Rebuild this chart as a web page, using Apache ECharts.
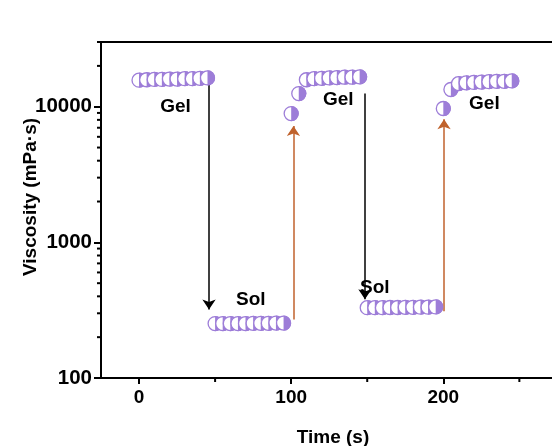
<!DOCTYPE html>
<html>
<head>
<meta charset="utf-8">
<script src="https://cdn.jsdelivr.net/npm/echarts@6/dist/echarts.min.js"></script>
<style>
  html, body { margin: 0; padding: 0; background: #fff; }
  #chart { width: 552px; height: 446px; }
</style>
</head>
<body>
<div id="chart"></div>
<script>
// Step-shear viscosity recovery: alternating low / high shear intervals
const gelTime1 = [0, 5, 10, 15, 20, 25, 30, 35, 40, 45];
const gelVisc1 = [15700, 15800, 15900, 15900, 16000, 16000, 16100, 16100, 16200, 16300];
const solTime1 = [50, 55, 60, 65, 70, 75, 80, 85, 90, 95];
const solVisc1 = [252, 252, 252, 252, 252, 253, 253, 253, 254, 254];
const gelTime2 = [100, 105, 110, 115, 120, 125, 130, 135, 140, 145];
const gelVisc2 = [8900, 12500, 15800, 16100, 16200, 16300, 16400, 16500, 16500, 16600];
const solTime2 = [150, 155, 160, 165, 170, 175, 180, 185, 190, 195];
const solVisc2 = [330, 330, 330, 331, 331, 332, 332, 333, 333, 334];
const gelTime3 = [200, 205, 210, 215, 220, 225, 230, 235, 240, 245];
const gelVisc3 = [9700, 13400, 14800, 15000, 15100, 15200, 15300, 15400, 15400, 15500];

// axis ticks
const xMajorTicks = [0, 100, 200];
const xMinorTicks = [50, 150, 250];
const yMajorTicks = [100, 1000, 10000];
const yMinorTicks = [200, 300, 400, 500, 600, 700, 800, 900,
                     2000, 3000, 4000, 5000, 6000, 7000, 8000, 9000, 20000, 30000];

// state labels: text, time, viscosity
const stateLabels = [
  ['Gel', 24, 10000],
  ['Sol', 73.5, 376],
  ['Gel', 131, 11300],
  ['Sol', 155, 465],
  ['Gel', 227, 10500]
];

// switching arrows: from [t, v] to [t, v]
const shearDown = [
  [[46, 14800], [46, 320]],
  [[148.5, 12500], [148.5, 380]]
];
const shearUp = [
  [[101.5, 270], [101.5, 7200]],
  [[200.5, 310], [200.5, 8100]]
];

const PURPLE = '#9d7dd8';
const ORANGE = '#c0622c';
const FONT = '"Liberation Sans", Arial, sans-serif';

function pairs(ts, vs) { return ts.map((t, i) => [t, vs[i]]); }
const points = [].concat(
  pairs(gelTime1, gelVisc1), pairs(solTime1, solVisc1),
  pairs(gelTime2, gelVisc2), pairs(solTime2, solVisc2),
  pairs(gelTime3, gelVisc3)
);

const chart = echarts.init(document.getElementById('chart'), null, { renderer: 'canvas' });

const X_MIN = -25, X_MAX = 280, Y_MIN = 100, Y_MAX = 30000;

chart.setOption({
  animation: false,
  backgroundColor: '#fff',
  textStyle: { fontFamily: FONT },
  grid: {
    left: 101, top: 42, width: 464, height: 336,
    outerBoundsMode: 'none', containLabel: false,
    show: true, borderColor: '#000', borderWidth: 2, backgroundColor: 'transparent'
  },
  xAxis: {
    type: 'value', min: X_MIN, max: X_MAX,
    name: 'Time (s)', nameLocation: 'middle', nameGap: 50, nameMoveOverlap: false,
    nameTextStyle: { fontSize: 19, fontWeight: 'bold', color: '#000', fontFamily: FONT },
    axisLine: { show: true, onZero: false, lineStyle: { color: '#000', width: 2 } },
    axisTick: { show: true, customValues: xMajorTicks, length: 6, lineStyle: { color: '#000', width: 2 } },
    axisLabel: { customValues: xMajorTicks, margin: 10, fontSize: 19, fontWeight: 'bold', color: '#000', fontFamily: FONT },
    splitLine: { show: false }
  },
  yAxis: {
    type: 'log', logBase: 10, min: Y_MIN, max: Y_MAX,
    name: 'Viscosity (mPa·s)', nameLocation: 'middle', nameGap: 61, nameMoveOverlap: false,
    nameTextStyle: { fontSize: 19, fontWeight: 'bold', color: '#000', fontFamily: FONT, padding: [0, 0, 0, 26] },
    axisLine: { show: true, onZero: false, lineStyle: { color: '#000', width: 2 } },
    axisTick: { show: true, customValues: yMajorTicks, length: 7, lineStyle: { color: '#000', width: 2 } },
    axisLabel: {
      customValues: yMajorTicks, margin: 9, fontSize: 20.5, fontWeight: 'bold', color: '#000', fontFamily: FONT,
      formatter: function (v) { return String(Math.round(v)); }
    },
    splitLine: { show: false }
  },
  series: [
    {
      // minor ticks on both axes
      type: 'custom', clip: false, silent: true, z: 3,
      data: [0],
      renderItem: function (params, api) {
        const children = [];
        yMinorTicks.forEach(function (v) {
          const p = api.coord([X_MIN, v]);
          children.push({ type: 'line', shape: { x1: p[0] - 4, y1: p[1], x2: p[0], y2: p[1] },
            style: { stroke: '#000', lineWidth: 2 } });
        });
        xMinorTicks.forEach(function (t) {
          const p = api.coord([t, Y_MIN]);
          children.push({ type: 'line', shape: { x1: p[0], y1: p[1], x2: p[0], y2: p[1] + 4 },
            style: { stroke: '#000', lineWidth: 2 } });
        });
        return { type: 'group', children: children };
      }
    },
    {
      type: 'lines', coordinateSystem: 'cartesian2d', silent: true, z: 4,
      symbol: ['none', 'arrow'], symbolSize: [7, 10],
      lineStyle: { color: '#000', width: 1.5, opacity: 1 },
      data: shearDown.map(c => ({ coords: c }))
    },
    {
      type: 'lines', coordinateSystem: 'cartesian2d', silent: true, z: 4,
      symbol: ['none', 'arrow'], symbolSize: [7, 10],
      lineStyle: { color: ORANGE, width: 1.5, opacity: 1 },
      data: shearUp.map(c => ({ coords: c }))
    },
    {
      // half-filled circle markers, each drawn over the previous one
      type: 'custom', z: 5, clip: false,
      data: points,
      renderItem: function (params, api) {
        const p = api.coord([api.value(0), api.value(1)]);
        const r = 7;
        return {
          type: 'group',
          children: [
            { type: 'circle', shape: { cx: p[0], cy: p[1], r: r },
              style: { fill: '#fff', stroke: PURPLE, lineWidth: 1.3 } },
            { type: 'sector', shape: { cx: p[0], cy: p[1], r0: 0, r: r + 0.6,
                startAngle: -Math.PI / 2, endAngle: Math.PI / 2, clockwise: true },
              style: { fill: PURPLE } }
          ]
        };
      }
    },
    {
      // Gel / Sol state labels
      type: 'custom', z: 6, silent: true, clip: false,
      data: stateLabels.map(d => [d[1], d[2]]),
      renderItem: function (params, api) {
        const p = api.coord([api.value(0), api.value(1)]);
        return {
          type: 'text',
          x: p[0], y: p[1],
          style: {
            text: stateLabels[params.dataIndex][0],
            fill: '#000', font: 'bold 19px ' + FONT,
            textAlign: 'center', textVerticalAlign: 'middle'
          }
        };
      }
    }
  ]
});
</script>
</body>
</html>
